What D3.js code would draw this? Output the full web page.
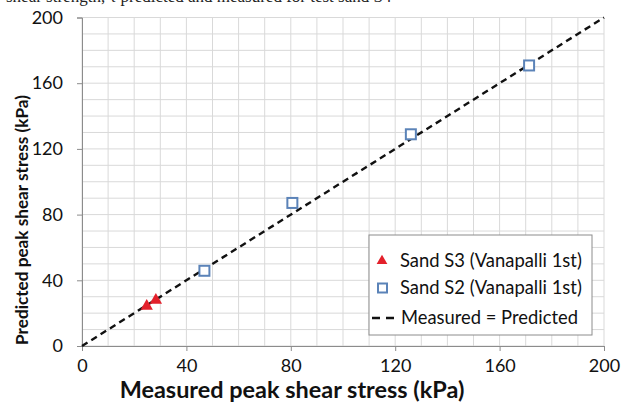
<!DOCTYPE html>
<html><head><meta charset="utf-8">
<script src="https://cdn.jsdelivr.net/npm/d3@7"></script>
<style>body{margin:0;background:#fff}svg{display:block}</style>
</head><body>
<script>
const s3x = [24.8, 28.3];
const s3y = [24.3, 27.9];
const s2x = [46.9, 80.6, 126.0, 171.3];
const s2y = [45.8, 87.1, 128.9, 170.8];
const lineX = [0, 200];
const lineY = [0, 200];
const ticks = [0, 40, 80, 120, 160, 200];
const legendLabels = ["Sand S3 (Vanapalli 1st)", "Sand S2 (Vanapalli 1st)", "Measured = Predicted"];

const W = 622, H = 403;
const svg = d3.select("body").append("svg").attr("width", W).attr("height", H);
const font = "Lato, 'Open Sans', sans-serif";

function fit(sel, width) {
  sel.attr("font-size", 20);
  const w = sel.node().getComputedTextLength();
  sel.attr("font-size", 20 * width / w);
  return sel;
}

const x = d3.scaleLinear().domain([0, 200]).range([82, 604]);
const y = d3.scaleLinear().domain([0, 200]).range([346, 17.5]);

// clipped caption at top
svg.append("text").attr("x", 6).attr("y", 2).attr("font-family", "'Liberation Serif', serif")
  .attr("font-size", 17).attr("fill", "#222").text("shear strength, τ predicted and measured for test sand S4");

// grid
const minor = d3.range(0, 201, 10);
svg.append("g").selectAll("line").data(minor).join("line")
  .attr("x1", d => x(d)).attr("x2", d => x(d)).attr("y1", y(0)).attr("y2", y(200))
  .attr("stroke", "#d9d9d9").attr("stroke-width", 1);
svg.append("g").selectAll("line").data(minor).join("line")
  .attr("y1", d => y(d)).attr("y2", d => y(d)).attr("x1", x(0)).attr("x2", x(200))
  .attr("stroke", "#d9d9d9").attr("stroke-width", 1);

// axes
const xAxis = svg.append("g").attr("transform", `translate(0,${y(0)})`)
  .call(d3.axisBottom(x).tickValues(ticks).tickSize(5).tickPadding(8).tickFormat(d3.format("d")));
const yAxis = svg.append("g").attr("transform", `translate(${x(0)},0)`)
  .call(d3.axisLeft(y).tickValues(ticks).tickSize(5).tickPadding(14).tickFormat(d3.format("d")));
[xAxis, yAxis].forEach(a => {
  a.select(".domain").attr("stroke", "#8c8c8c");
  a.selectAll(".tick line").attr("stroke", "#8c8c8c");
  a.selectAll("text").attr("font-family", font).attr("font-size", 18).attr("fill", "#111");
});

// axis titles
const xt = svg.append("text").attr("x", 292).attr("y", 398).attr("text-anchor", "middle")
  .attr("font-family", font).attr("font-weight", "bold").attr("fill", "#111")
  .text("Measured peak shear stress (kPa)");
fit(xt, 345);
const yt = svg.append("text").attr("transform", `translate(28,220) rotate(-90)`).attr("text-anchor", "middle")
  .attr("font-family", font).attr("font-weight", "bold").attr("fill", "#111")
  .text("Predicted peak shear stress (kPa)");
fit(yt, 250);

// 1:1 line
svg.append("line").attr("x1", x(lineX[0])).attr("y1", y(lineY[0])).attr("x2", x(lineX[1])).attr("y2", y(lineY[1]))
  .attr("stroke", "#111").attr("stroke-width", 2.4).attr("stroke-dasharray", "6.5,4.5");

// markers
const tri = d3.symbol().type(d3.symbolTriangle).size(66);
svg.append("g").selectAll("path").data(s3x).join("path")
  .attr("transform", (d, i) => `translate(${x(d)},${y(s3y[i])})`).attr("d", tri).attr("fill", "#e3202b");
svg.append("g").selectAll("rect").data(s2x).join("rect")
  .attr("x", d => x(d) - 5).attr("y", (d, i) => y(s2y[i]) - 5).attr("width", 10).attr("height", 10)
  .attr("fill", "#fff").attr("stroke", "#5b83b8").attr("stroke-width", 2);

// legend
const lg = svg.append("g");
lg.append("rect").attr("x", 369).attr("y", 235).attr("width", 223).attr("height", 100)
  .attr("fill", "#fff").attr("stroke", "#8c8c8c").attr("stroke-width", 1);
const rows = [261, 288, 318];
lg.append("path").attr("transform", `translate(382,${rows[0]})`).attr("d", d3.symbol().type(d3.symbolTriangle).size(50)).attr("fill", "#e3202b");
lg.append("rect").attr("x", 378).attr("y", rows[1] - 4.5).attr("width", 9).attr("height", 9)
  .attr("fill", "#fff").attr("stroke", "#5b83b8").attr("stroke-width", 2);
lg.append("line").attr("x1", 372).attr("x2", 396).attr("y1", rows[2]).attr("y2", rows[2])
  .attr("stroke", "#111").attr("stroke-width", 2.4).attr("stroke-dasharray", "8,6");
const widths = [182, 182, 177];
lg.selectAll("text.l").data(legendLabels).join("text").attr("class", "l")
  .attr("x", (d, i) => i < 2 ? 400 : 401).attr("y", (d, i) => rows[i] + 6)
  .attr("font-family", font).attr("fill", "#111").text(d => d)
  .each(function(d, i) { fit(d3.select(this), widths[i]); });
</script>
</body></html>
